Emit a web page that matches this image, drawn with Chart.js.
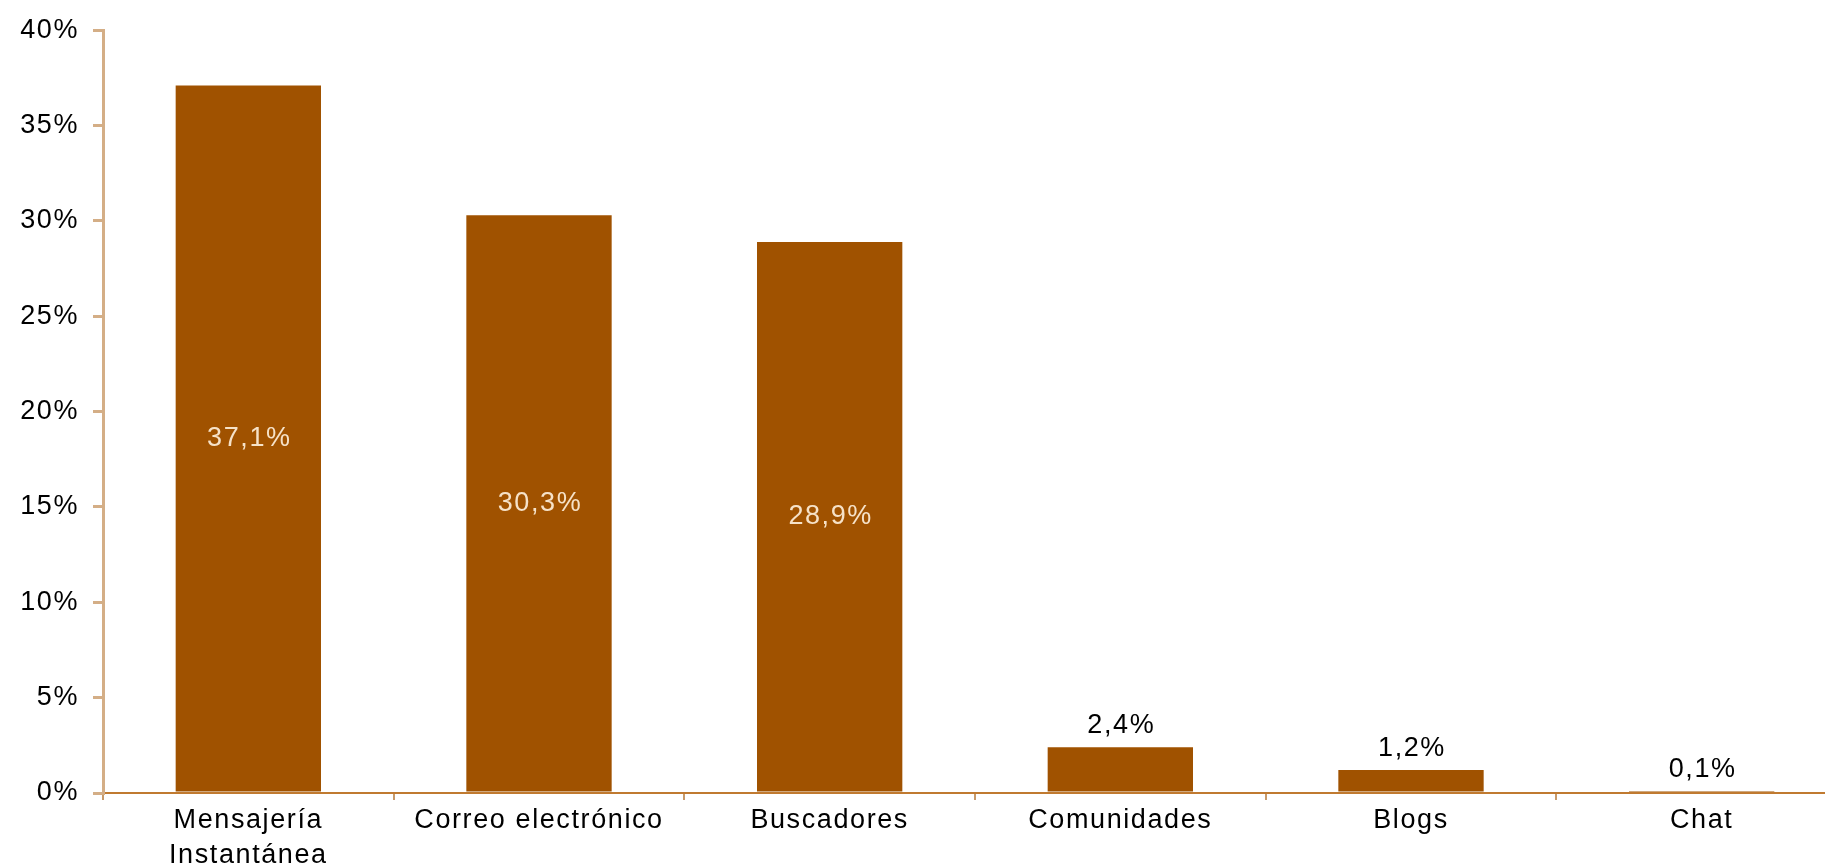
<!DOCTYPE html>
<html>
<head>
<meta charset="utf-8">
<script src="https://cdn.jsdelivr.net/npm/chart.js@4/dist/chart.umd.min.js"></script>
<style>
    html, body { margin: 0; padding: 0; background: #fff; overflow: hidden; }
    #wrap { width: 1850px; height: 865px; }
</style>
</head>
<body>
<div id="wrap"><canvas id="chart" width="1850" height="865"></canvas></div>
<script>
const categories = [['Mensajería', 'Instantánea'], 'Correo electrónico', 'Buscadores', 'Comunidades', 'Blogs', 'Chat'];
const shares = [37.1, 30.3, 28.9, 2.4, 1.2, 0.1];
const yTicks = [0, 5, 10, 15, 20, 25, 30, 35, 40];

const barColor = '#A05200';
const fontFamily = '"Liberation Sans", Arial, sans-serif';
const fontSize = 27;
const spacing = '1.6px';

// the original text is drawn a bit wide, so space the letters out
const wideText = {
    id: 'wideText',
    beforeUpdate(chart) { chart.ctx.letterSpacing = spacing; },
    beforeDraw(chart) { chart.ctx.letterSpacing = spacing; }
};

// labels: inside the bar for the big ones, above it for the small ones
const valueLabels = {
    id: 'valueLabels',
    afterDatasetsDraw(chart) {
        const ctx = chart.ctx;
        const meta = chart.getDatasetMeta(0);
        ctx.save();
        ctx.letterSpacing = spacing;
        ctx.font = fontSize + 'px ' + fontFamily;
        ctx.textAlign = 'center';
        meta.data.forEach((bar, i) => {
            const v = shares[i];
            const text = v.toFixed(1).replace('.', ',') + '%';
            if (v > 10) {
                ctx.fillStyle = '#F6E2C8';
                ctx.textBaseline = 'middle';
                ctx.fillText(text, bar.x + 1, (bar.y + bar.base) / 2);
            } else {
                ctx.fillStyle = '#000';
                ctx.textBaseline = 'bottom';
                ctx.fillText(text, bar.x + 1, bar.y - 8);
            }
        });
        ctx.restore();
    }
};

const chart = new Chart(document.getElementById('chart'), {
    type: 'bar',
    data: {
        labels: categories,
        datasets: [{
            data: shares,
            backgroundColor: barColor,
            barPercentage: 0.5,
            categoryPercentage: 1
        }]
    },
    options: {
        responsive: false,
        animation: false,
        layout: { padding: { top: 29, left: 0, right: 3, bottom: 0 } },
        plugins: { legend: { display: false }, tooltip: { enabled: false } },
        scales: {
            x: {
                grid: {
                    display: true,
                    drawOnChartArea: false,
                    offset: true,
                    color: '#C89A6A',
                    tickLength: 7,
                    lineWidth: 2
                },
                border: { color: '#C07A30', width: 2 },
                ticks: {
                    color: '#000',
                    font: { family: fontFamily, size: fontSize, lineHeight: 1.3 },
                    maxRotation: 0,
                    autoSkip: false,
                    padding: 3
                },
                afterFit(scale) { scale.height = 72; }
            },
            y: {
                min: 0,
                max: 40,
                afterBuildTicks(scale) { scale.ticks = yTicks.map(v => ({ value: v })); },
                grid: {
                    display: true,
                    drawOnChartArea: false,
                    color: '#D4AE86',
                    tickLength: 10,
                    lineWidth: 3
                },
                border: { color: '#D4AE86', width: 3 },
                ticks: {
                    color: '#000',
                    font: { family: fontFamily, size: fontSize },
                    padding: 14,
                    callback: v => v + '%'
                },
                afterFit(scale) { scale.width = 103; }
            }
        }
    },
    plugins: [wideText, valueLabels]
});
</script>
</body>
</html>
